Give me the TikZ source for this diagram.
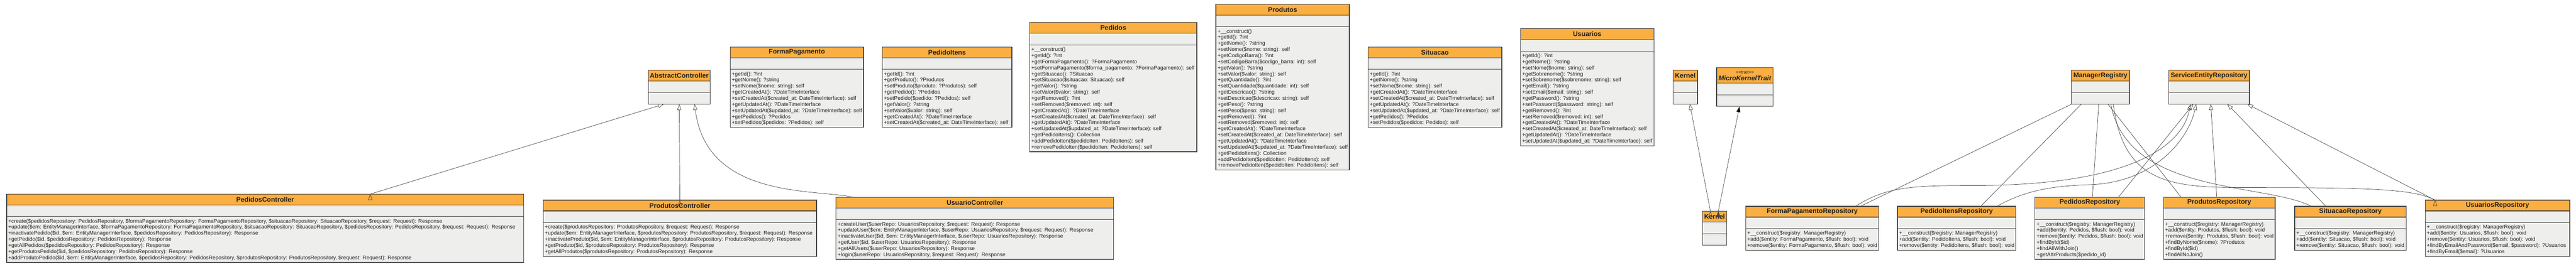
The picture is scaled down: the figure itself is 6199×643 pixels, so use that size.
\documentclass[tikz,border=0pt]{standalone}
\usepackage{fontspec}
\setmainfont{Liberation Sans}
\usepackage{tikz}
\usetikzlibrary{arrows.meta,positioning,calc}
\definecolor{headorange}{RGB}{251,174,66}
\definecolor{bodygray}{RGB}{238,238,236}
\definecolor{edgegray}{RGB}{68,68,68}
\definecolor{ink}{RGB}{34,34,34}

% class box: name, left, centre y, width, title height, method part height, title, methods
\newcommand{\classbox}[8]{%
  \node[classbody,anchor=west,minimum width=#4pt,minimum height=#5pt+28pt+#6pt] (#1) at (#2,#3) {};
  \node[classhead,anchor=north west,minimum width=#4pt,minimum height=#5pt] (#1-title) at (#1.north west) {#7};
  \draw[classrule] ([yshift=-#5pt-28pt]#1.north west) -- ([yshift=-#5pt-28pt]#1.north east);
  \node[methodlist,anchor=north west] (#1-ops) at ([yshift=-#5pt-28pt]#1.north west) {#8};
}

% method lists
\def\mFormaPag{\strut+getId(): ?int\\+getNome(): ?string\\+setNome(\$nome: string): self\\+getCreatedAt(): ?DateTimeInterface\\+setCreatedAt(\$created\_at: DateTimeInterface): self\\+getUpdatedAt(): ?DateTimeInterface\\+setUpdatedAt(\$updated\_at: ?DateTimeInterface): self\\+getPedidos(): ?Pedidos\\+setPedidos(\$pedidos: ?Pedidos): self}
\def\mPedItens{\strut+getId(): ?int\\+getProduto(): ?Produtos\\+setProduto(\$produto: ?Produtos): self\\+getPedido(): ?Pedidos\\+setPedido(\$pedido: ?Pedidos): self\\+getValor(): ?string\\+setValor(\$valor: string): self\\+getCreatedAt(): ?DateTimeInterface\\+setCreatedAt(\$created\_at: DateTimeInterface): self}
\def\mPedidos{\strut+\_\_construct()\\+getId(): ?int\\+getFormaPagamento(): ?FormaPagamento\\+setFormaPagamento(\$forma\_pagamento: ?FormaPagamento): self\\+getSituacao(): ?Situacao\\+setSituacao(\$situacao: Situacao): self\\+getValor(): ?string\\+setValor(\$valor: string): self\\+getRemoved(): ?int\\+setRemoved(\$removed: int): self\\+getCreatedAt(): ?DateTimeInterface\\+setCreatedAt(\$created\_at: DateTimeInterface): self\\+getUpdatedAt(): ?DateTimeInterface\\+setUpdatedAt(\$updated\_at: ?DateTimeInterface): self\\+getPedidoItens(): Collection\\+addPedidoIten(\$pedidoIten: PedidoItens): self\\+removePedidoIten(\$pedidoIten: PedidoItens): self}
\def\mProdutos{\strut+\_\_construct()\\+getId(): ?int\\+getNome(): ?string\\+setNome(\$nome: string): self\\+getCodigoBarra(): ?int\\+setCodigoBarra(\$codigo\_barra: int): self\\+getValor(): ?string\\+setValor(\$valor: string): self\\+getQuantidade(): ?int\\+setQuantidade(\$quantidade: int): self\\+getDescricao(): ?string\\+setDescricao(\$descricao: string): self\\+getPeso(): ?string\\+setPeso(\$peso: string): self\\+getRemoved(): ?int\\+setRemoved(\$removed: int): self\\+getCreatedAt(): ?DateTimeInterface\\+setCreatedAt(\$created\_at: DateTimeInterface): self\\+getUpdatedAt(): ?DateTimeInterface\\+setUpdatedAt(\$updated\_at: ?DateTimeInterface): self\\+getPedidoItens(): Collection\\+addPedidoIten(\$pedidoIten: PedidoItens): self\\+removePedidoIten(\$pedidoIten: PedidoItens): self}
\def\mSituacao{\strut+getId(): ?int\\+getNome(): ?string\\+setNome(\$nome: string): self\\+getCreatedAt(): ?DateTimeInterface\\+setCreatedAt(\$created\_at: DateTimeInterface): self\\+getUpdatedAt(): ?DateTimeInterface\\+setUpdatedAt(\$updated\_at: ?DateTimeInterface): self\\+getPedidos(): ?Pedidos\\+setPedidos(\$pedidos: Pedidos): self}
\def\mUsuarios{\strut+getId(): ?int\\+getNome(): ?string\\+setNome(\$nome: string): self\\+getSobrenome(): ?string\\+setSobrenome(\$sobrenome: string): self\\+getEmail(): ?string\\+setEmail(\$email: string): self\\+getPassword(): ?string\\+setPassword(\$password: string): self\\+getRemoved(): ?int\\+setRemoved(\$removed: int): self\\+getCreatedAt(): ?DateTimeInterface\\+setCreatedAt(\$created\_at: DateTimeInterface): self\\+getUpdatedAt(): ?DateTimeInterface\\+setUpdatedAt(\$updated\_at: ?DateTimeInterface): self}
\def\mPedidosCtl{\strut+create(\$pedidosRepository: PedidosRepository, \$formaPagamentoRepository: FormaPagamentoRepository, \$situacaoRepository: SituacaoRepository, \$request: Request): Response\\+update(\$em: EntityManagerInterface, \$formaPagamentoRepository: FormaPagamentoRepository, \$situacaoRepository: SituacaoRepository, \$pedidosRepository: PedidosRepository, \$request: Request): Response\\+inactivatePedido(\$id, \$em: EntityManagerInterface, \$pedidosRepository: PedidosRepository): Response\\+getPedido(\$id, \$pedidosRepository: PedidosRepository): Response\\+getAllPedidos(\$pedidosRepository: PedidosRepository): Response\\+getProdutosPedido(\$id, \$pedidosRepository: PedidosRepository): Response\\+addProdutoPedido(\$id, \$em: EntityManagerInterface, \$pedidosRepository: PedidosRepository, \$produtosRepository: ProdutosRepository, \$request: Request): Response}
\def\mProdutosCtl{\strut+create(\$produtosRepository: ProdutosRepository, \$request: Request): Response\\+update(\$em: EntityManagerInterface, \$produtosRepository: ProdutosRepository, \$request: Request): Response\\+inactivateProduto(\$id, \$em: EntityManagerInterface, \$produtosRepository: ProdutosRepository): Response\\+getProduto(\$id, \$produtosRepository: ProdutosRepository): Response\\+getAllProdutos(\$produtosRepository: ProdutosRepository): Response}
\def\mUsuarioCtl{\strut+createUser(\$userRepo: UsuariosRepository, \$request: Request): Response\\+updateUser(\$em: EntityManagerInterface, \$userRepo: UsuariosRepository, \$request: Request): Response\\+inactivateUser(\$id, \$em: EntityManagerInterface, \$userRepo: UsuariosRepository): Response\\+getUser(\$id, \$userRepo: UsuariosRepository): Response\\+getAllUsers(\$userRepo: UsuariosRepository): Response\\+login(\$userRepo: UsuariosRepository, \$request: Request): Response}
\def\mRepo#1{\strut+\_\_construct(\$registry: ManagerRegistry)\\+add(\$entity: #1, \$flush: bool): void\\+remove(\$entity: #1, \$flush: bool): void}
\def\trait{{\fontsize{11}{12}\selectfont\mdseries\textless\kern0pt\textless trait\textgreater\kern0pt\textgreater}\\\textit{MicroKernelTrait}}

\begin{document}
\begin{tikzpicture}[x=1pt,y=-1pt,% pixel grid, y downwards
    every node/.style={inner sep=0pt,outer sep=0pt,text=ink},
    classbody/.style={draw=edgegray,fill=bodygray,line width=1.5pt},
    classhead/.style={draw=edgegray,fill=headorange,line width=1.5pt,align=center,
      font=\fontsize{16}{17}\selectfont\bfseries},
    classrule/.style={draw=edgegray,line width=1.5pt},
    methodlist/.style={align=left,inner xsep=4pt,inner ysep=5pt,
      font=\fontsize{12.8}{14.7}\selectfont},
    link/.style={draw=edgegray,line width=0.9pt},
    gen/.style={link,-{Triangle[open,length=14pt,width=10pt]}},
    uses/.style={link,-{Triangle[length=14pt,width=10pt]}}
  ]
  \useasboundingbox (0,0) rectangle (6199,643);

  % upper row
  \classbox{AbstractCtl}{1560}{210}{149}{26}{28}{AbstractController}{}
  \classbox{FormaPag}{1757}{210}{321}{26}{140}{FormaPagamento}{\mFormaPag}
  \classbox{PedItens}{2123}{210}{312}{26}{140}{PedidoItens}{\mPedItens}
  \classbox{Pedidos}{2478}{210}{402}{26}{257.6}{Pedidos}{\mPedidos}
  \classbox{Produtos}{2926}{210}{321}{26}{345.8}{Produtos}{\mProdutos}
  \classbox{Situacao}{3292}{210}{322}{26}{140}{Situacao}{\mSituacao}
  \classbox{Usuarios}{3659}{210}{321}{26}{228.2}{Usuarios}{\mUsuarios}
  \classbox{Kernel}{4026}{210}{59}{26}{28}{Kernel}{}
  \classbox{MicroKernel}{4131}{210}{136}{37}{28}{\trait}{}
  \classbox{ManagerReg}{4985}{210}{139}{26}{28}{ManagerRegistry}{}
  \classbox{ServiceRepo}{5219}{210}{194}{26}{28}{ServiceEntityRepository}{}

  % lower row
  \classbox{PedidosCtl}{16}{550}{1244}{26}{110.6}{PedidosController}{\mPedidosCtl}
  \classbox{ProdutosCtl}{1307}{550}{658}{26}{81.2}{ProdutosController}{\mProdutosCtl}
  \classbox{UsuarioCtl}{2012}{550}{668}{26}{95.9}{UsuarioController}{\mUsuarioCtl}
  \classbox{KernelApp}{4097}{550}{58}{26}{28}{Kernel}{}
  \classbox{FormaPagRepo}{4201}{550}{320}{26}{51.8}{FormaPagamentoRepository}{\mRepo{FormaPagamento}}
  \classbox{PedItensRepo}{4566}{550}{285}{26}{51.8}{PedidoItensRepository}{\mRepo{PedidoItens}}
  \classbox{PedidosRepo}{4897}{550}{264}{26}{95.9}{PedidosRepository}{\mRepo{Pedidos}\\+findById(\$id)\\+findAllWithJoin()\\+getAttrProducts(\$pedido\_id)}
  \classbox{ProdutosRepo}{5206}{550}{269}{26}{95.9}{ProdutosRepository}{\mRepo{Produtos}\\+findByNome(\$nome): ?Produtos\\+findById(\$id)\\+findAllNoJoin()}
  \classbox{SituacaoRepo}{5522}{550}{268}{26}{51.8}{SituacaoRepository}{\mRepo{Situacao}}
  \classbox{UsuariosRepo}{5836}{550}{348}{26}{81.2}{UsuariosRepository}{\mRepo{Usuarios}\\+findByEmailAndPassword(\$email, \$password): ?Usuarios\\+findByEmail(\$email): ?Usuarios}

  % controllers extend AbstractController
  \path[gen] ([xshift=253pt]PedidosCtl.north) edge ([xshift=-37pt]AbstractCtl.south);
  \path[gen] (ProdutosCtl.north) edge (AbstractCtl.south);
  \draw[gen] ([xshift=-294pt]UsuarioCtl.north) .. controls (1960,455) and (1700,480) .. ([xshift=37pt]AbstractCtl.south);

  % kernel
  \path[gen] ([xshift=-10pt]KernelApp.north) edge ([xshift=11pt]Kernel.south);
  \path[uses] ([xshift=9pt]KernelApp.north) edge ([xshift=-13pt]MicroKernel.south);

  % repositories use ManagerRegistry
  \path[link] (ManagerReg.south west) edge ([xshift=116pt]FormaPagRepo.north)
    ([xshift=-46pt]ManagerReg.south) edge ([xshift=58pt]PedItensRepo.north)
    ([xshift=-4pt]ManagerReg.south) edge ([xshift=6pt]PedidosRepo.north)
    ([xshift=18pt]ManagerReg.south) edge ([xshift=-92pt]ProdutosRepo.north);
  \draw[link] ([xshift=25pt]ManagerReg.south) .. controls (5120,470) and (5450,440) .. ([xshift=-94pt]SituacaoRepo.north);
  \draw[link] ([xshift=31pt]ManagerReg.south) .. controls (5110,440) and (5220,452) .. (5400,452)
    .. controls (5700,452) and (5810,455) .. ([xshift=-150pt]UsuariosRepo.north);

  % repositories extend ServiceEntityRepository
  \draw[gen] ([xshift=104pt]FormaPagRepo.north) .. controls (4540,450) and (4600,447) .. (4750,447)
    .. controls (5150,447) and (5255,340) .. ([xshift=-45pt]ServiceRepo.south);
  \draw[gen] ([xshift=97pt]PedItensRepo.north) .. controls (4880,455) and (4950,448) .. (5030,445)
    .. controls (5180,440) and (5265,340) .. ([xshift=-31pt]ServiceRepo.south);
  \path[gen] ([xshift=69pt]PedidosRepo.north) edge ([xshift=-38pt]ServiceRepo.south)
    ([xshift=-6pt]ProdutosRepo.north) edge ([xshift=4pt]ServiceRepo.south)
    ([xshift=-59pt]SituacaoRepo.north) edge ([xshift=44pt]ServiceRepo.south)
    ([xshift=-150pt]UsuariosRepo.north) edge ([xshift=92pt]ServiceRepo.south);
\end{tikzpicture}
\end{document}
